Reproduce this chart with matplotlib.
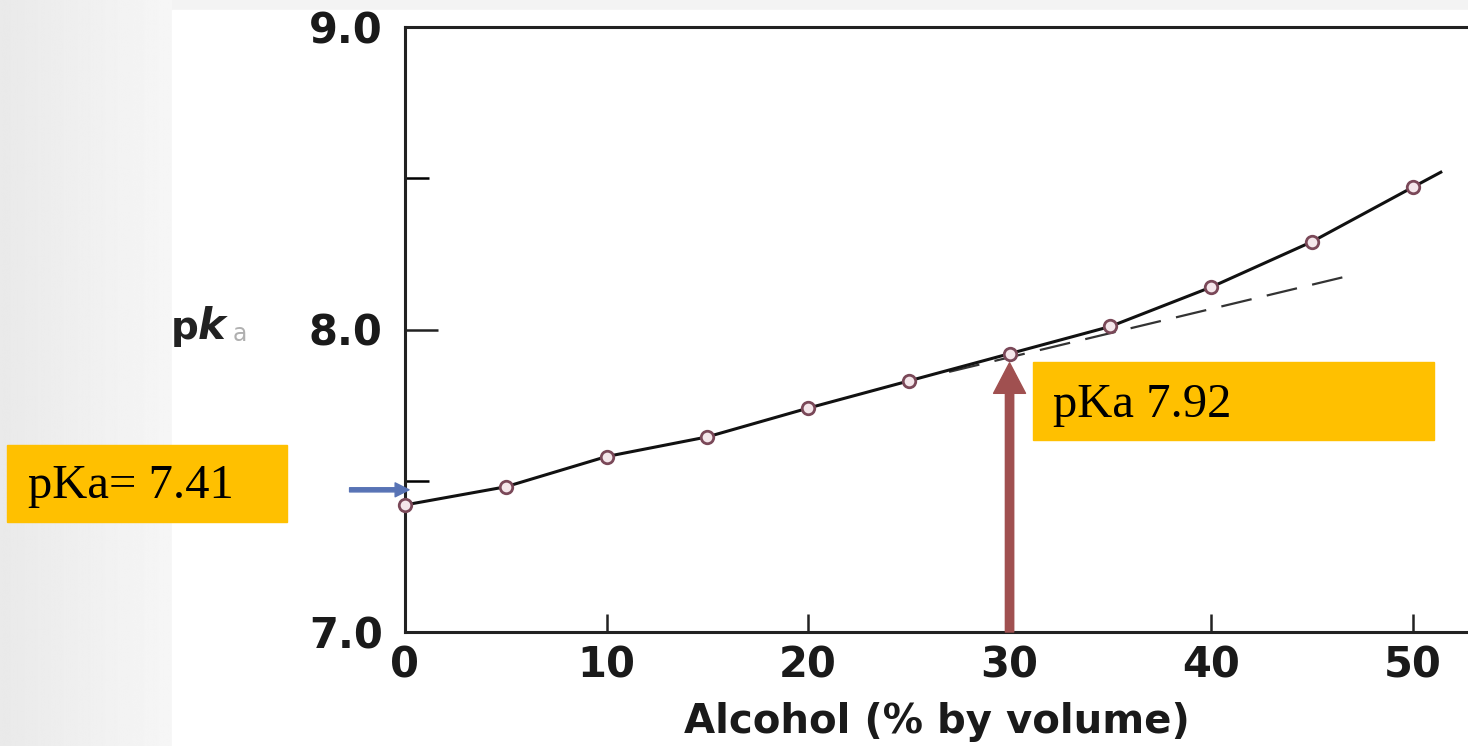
import numpy as np
import matplotlib
matplotlib.use("Agg")
import matplotlib.pyplot as plt
from matplotlib.patches import Rectangle, FancyArrowPatch
from matplotlib.ticker import MultipleLocator

# ---- data ----
alcohol = [0, 5, 10, 15, 20, 25, 30, 35, 40, 45, 50]
pka = [7.42, 7.48, 7.58, 7.645, 7.74, 7.83, 7.92, 8.01, 8.14, 8.29, 8.47]
curve_end_x = [51.4]
curve_end_y = [8.52]
dash_x = [27, 47]
dash_y = [7.86, 8.18]
xticks = [0, 10, 20, 30, 40, 50]
xtick_labels = ["0", "10", "20", "30", "40", "50"]
yticks = [7.0, 8.0, 9.0]
ytick_labels = ["7.0", "8.0", "9.0"]
label_left = "pKa= 7.41"
label_right = "pKa 7.92"
arrow_x = 30
arrow_tip_y = 7.89
blue_arrow_y = 7.47

W, H = 1468, 746
fig = plt.figure(figsize=(W / 100, H / 100), dpi=100)

# background with left gradient
bg = fig.add_axes([0, 0, 1, 1], zorder=-10)
bg.add_patch(Rectangle((0, 0), W, H, color="#f3f3f3", zorder=0))
grad = np.linspace(0.915, 0.965, 256)
img = np.tile(grad, (16, 1))
bg.imshow(img, cmap="gray", vmin=0, vmax=1, aspect="auto", extent=[0, 172, 0, H],
          zorder=1)
bg.add_patch(Rectangle((172, 0), W - 172, H - 10, color="white", zorder=2))
bg.set_xlim(0, W)
bg.set_ylim(0, H)
bg.axis("off")

def fx(px):
    return px / W

def fy(py):
    return (H - py) / H

ax = fig.add_axes([fx(405), fy(632), fx(1468) - fx(405), fy(27) - fy(632)])
ax.set_facecolor("none")
ax.set_xlim(0, 52.75)
ax.set_ylim(7.0, 9.0)

for s in ["left", "bottom", "top"]:
    ax.spines[s].set_linewidth(2.2)
    ax.spines[s].set_color("#222222")
ax.spines["right"].set_visible(False)

ax.set_xticks(xticks)
ax.set_xticklabels(xtick_labels)
ax.set_yticks(yticks)
ax.set_yticklabels(ytick_labels)
ax.yaxis.set_minor_locator(MultipleLocator(0.5))

for lab in ax.get_xticklabels() + ax.get_yticklabels():
    lab.set_fontfamily("DejaVu Sans")
    lab.set_fontweight("bold")
    lab.set_fontsize(30)
    lab.set_color("#1a1a1a")

ax.tick_params(axis="x", direction="in", length=13, width=1.8, pad=9, colors="#222222")
ax.tick_params(axis="y", which="major", direction="in", length=24, width=1.8, pad=16, colors="#222222")
ax.tick_params(axis="y", which="minor", direction="in", length=17, width=1.8)
ax.tick_params(labelcolor="#1a1a1a")

ax.set_xlabel("Alcohol (% by volume)", fontfamily="DejaVu Sans", fontweight="bold",
              fontsize=29, color="#1a1a1a", labelpad=11)

# curve
ax.plot(alcohol + curve_end_x, pka + curve_end_y, color="#111111", lw=2.2, zorder=3,
        clip_on=False)
ax.plot(dash_x, dash_y, color="#333333", lw=1.6, dashes=(14, 7), zorder=2)
ax.plot(alcohol, pka, linestyle="none", marker="o", markersize=9,
        markerfacecolor="#f4e6ea", markeredgecolor="#7a4858", markeredgewidth=2,
        zorder=4, clip_on=False)

# y label "pk_a"
fig.text(fx(171), fy(339), "p", fontfamily="DejaVu Sans", fontweight="bold",
         fontsize=28, color="#222222", va="baseline", ha="left")
fig.text(fx(198), fy(339), "k", fontfamily="DejaVu Sans", fontweight="bold",
         fontstyle="italic", fontsize=30, color="#222222", va="baseline", ha="left")
fig.text(fx(233), fy(341), "a", fontfamily="DejaVu Sans", fontsize=17,
         color="#b0b0b0", va="baseline", ha="left")

# red arrow
red = FancyArrowPatch((arrow_x, 7.0), (arrow_x, arrow_tip_y),
                      arrowstyle="simple,head_length=2.2,head_width=2.3,tail_width=0.6",
                      mutation_scale=10, color="#a05050", shrinkA=0, shrinkB=0,
                      zorder=6, clip_on=False)
ax.add_patch(red)

# blue arrow
blue = FancyArrowPatch((-2.75, blue_arrow_y), (0.2, blue_arrow_y),
                       arrowstyle="simple,head_length=1.0,head_width=1.0,tail_width=0.3",
                       mutation_scale=10, color="#5873b5", shrinkA=0, shrinkB=0,
                       zorder=6, clip_on=False)
ax.add_patch(blue)

# yellow label boxes
fig.patches.append(Rectangle((fx(7), fy(522)), fx(287) - fx(7), fy(445) - fy(522),
                             transform=fig.transFigure, color="#ffc000", zorder=5))
fig.text(fx(28), fy(498), label_left, fontfamily="Liberation Serif", fontsize=35,
         color="black", va="baseline", ha="left", zorder=6)
fig.patches.append(Rectangle((fx(1033), fy(440)), fx(1434) - fx(1033), fy(362) - fy(440),
                             transform=fig.transFigure, color="#ffc000", zorder=5))
fig.text(fx(1053), fy(417), label_right, fontfamily="Liberation Serif", fontsize=35,
         color="black", va="baseline", ha="left", zorder=6)

fig.savefig("out.png", dpi=100)
